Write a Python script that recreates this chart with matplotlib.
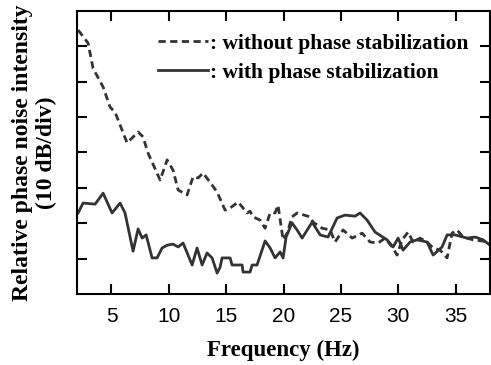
import numpy as np
import matplotlib.pyplot as plt

# Phase noise spectra, frequency in Hz, intensity in 10 dB divisions
freq_without = [2.09, 2.96, 3.39, 4.27, 4.88, 5.31, 6.36, 7.32, 7.75, 8.19,
                9.24, 9.85, 10.37, 10.81, 11.59, 12.11, 12.55, 12.99, 13.77, 14.21,
                14.90, 15.34, 16.04, 16.47, 16.82, 17.08, 17.34, 17.95, 18.39, 18.83,
                19.26, 19.52, 19.96, 20.31, 20.74, 21.18, 22.31, 22.58, 23.36, 24.06,
                24.49, 25.19, 25.98, 26.85, 27.54, 28.24, 28.85, 29.46, 29.90, 30.33,
                30.86, 31.29, 31.90, 32.51, 33.04, 33.65, 34.26, 34.69, 35.13, 35.65,
                36.53, 38.0]
noise_without = [7.46, 7.09, 6.38, 5.85, 5.28, 5.14, 4.27, 4.58, 4.44, 3.98,
                 3.22, 3.79, 3.50, 2.94, 2.80, 3.31, 3.28, 3.42, 3.08, 2.88,
                 2.37, 2.43, 2.60, 2.43, 2.29, 2.34, 2.18, 2.09, 1.86, 2.29,
                 2.29, 2.51, 1.53, 1.72, 2.18, 2.29, 2.18, 2.03, 1.86, 1.81,
                 1.47, 1.81, 1.58, 1.72, 1.47, 1.44, 1.58, 1.33, 1.10, 1.53,
                 1.75, 1.47, 1.58, 1.47, 1.30, 1.24, 1.02, 1.72, 1.81, 1.61,
                 1.53, 1.47]

freq_with = [2.09, 2.52, 3.57, 4.27, 5.05, 5.75, 6.18, 6.88, 7.32, 7.67,
             8.02, 8.54, 8.97, 9.41, 9.85, 10.37, 10.81, 11.24, 11.42, 12.03,
             12.46, 12.90, 13.33, 13.77, 14.21, 14.47, 14.64, 15.34, 15.51, 16.39,
             16.47, 17.08, 17.26, 17.69, 18.39, 18.83, 19.26, 19.70, 19.96, 20.22,
             20.74, 21.18, 21.62, 22.49, 23.19, 23.88, 24.67, 25.36, 26.24, 26.67,
             27.28, 27.98, 29.03, 29.55, 29.99, 30.42, 31.03, 31.64, 32.51, 33.04,
             33.82, 34.26, 34.95, 36.00, 36.70, 37.40, 38.0]
noise_with = [2.29, 2.57, 2.54, 2.85, 2.29, 2.57, 2.29, 1.21, 1.84, 1.58,
              1.67, 1.02, 1.02, 1.30, 1.38, 1.41, 1.33, 1.44, 1.30, 0.82,
              1.30, 0.82, 1.16, 1.02, 0.59, 0.76, 1.02, 1.02, 0.82, 0.82,
              0.62, 0.62, 0.82, 0.82, 1.50, 1.30, 1.02, 1.19, 1.02, 1.61,
              2.01, 1.81, 1.58, 2.03, 1.67, 1.61, 2.15, 2.23, 2.20, 2.29,
              2.09, 1.75, 1.53, 1.33, 1.58, 1.24, 1.47, 1.53, 1.47, 1.10,
              1.33, 1.67, 1.67, 1.58, 1.61, 1.53, 1.38]

xticks = [5, 10, 15, 20, 25, 30, 35]
yticks = [1, 2, 3, 4, 5, 6, 7]

serif = ['Liberation Serif', 'DejaVu Serif']
sans = ['Liberation Sans', 'DejaVu Sans']
line_col = '#333333'

fig = plt.figure(figsize=(4.91, 3.65), dpi=100)
ax = fig.add_axes([0.157, 0.1945, 0.841, 0.7755])

ax.plot(freq_without, noise_without, color=line_col, lw=2, ls=(0, (2.6, 1.6)),
        label=': without phase stabilization')
ax.plot(freq_with, noise_with, color=line_col, lw=2,
        label=': with phase stabilization')

ax.set_xlim(2, 38)
ax.set_ylim(0, 8)
ax.set_xticks(xticks)
ax.set_yticks(yticks)
ax.set_yticklabels([])
ax.tick_params(direction='in', length=7, width=1.5, top=True, right=True,
               labelsize=15, pad=9)
for lab in ax.get_xticklabels():
    lab.set_family(sans)
for sp in ax.spines.values():
    sp.set_linewidth(1.5)

ax.set_xlabel('Frequency (Hz)', family=serif, fontweight='bold', fontsize=16.5,
              labelpad=10)
ax.set_ylabel('Relative phase noise intensity\n(10 dB/div)', family=serif,
              fontweight='bold', fontsize=17, labelpad=5.5, linespacing=1.15)

leg = ax.legend(loc='upper left', bbox_to_anchor=(0.196, 0.92), frameon=False,
                prop={'family': serif, 'weight': 'bold', 'size': 15.5},
                handlelength=2.3, handletextpad=0.1, borderpad=0,
                borderaxespad=0, labelspacing=0.42)

fig.savefig('out.png', dpi=100)
